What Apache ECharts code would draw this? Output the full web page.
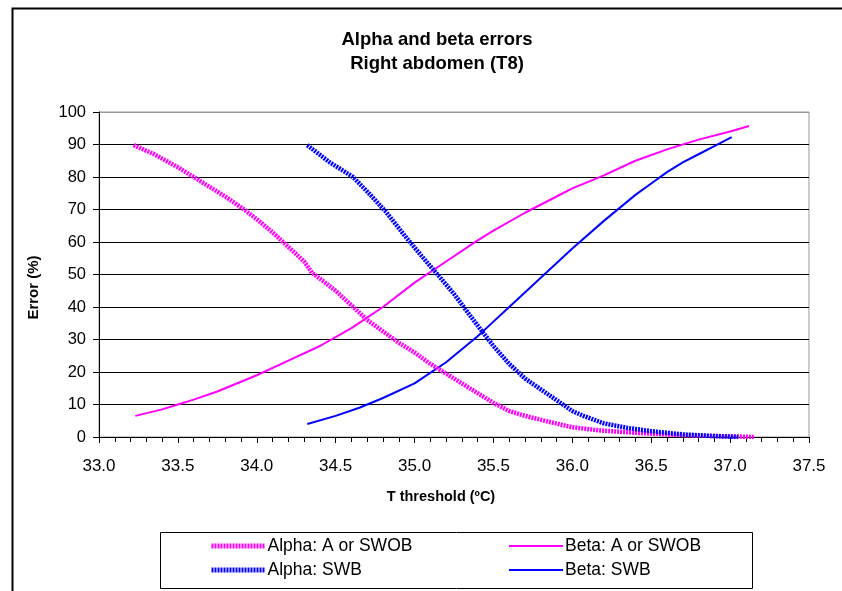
<!DOCTYPE html>
<html>
<head>
<meta charset="utf-8">
<script src="https://cdn.jsdelivr.net/npm/echarts@6/dist/echarts.min.js"></script>
<style>
html,body{margin:0;padding:0;background:#fff;}
#c{width:842px;height:591px;}
</style>
</head>
<body>
<div id="c"></div>
<script>
// Data
var titleText = 'Alpha and beta errors\nRight abdomen (T8)';
var xTicks = [33.0, 33.5, 34.0, 34.5, 35.0, 35.5, 36.0, 36.5, 37.0, 37.5];
var seriesNames = ['Alpha: A or SWOB', 'Beta: A or SWOB', 'Alpha: SWB', 'Beta: SWB'];

var alphaA_T = [33.22,33.35,33.5,33.58,33.7,33.8,33.92,34.0,34.1,34.2,34.3,34.35,34.42,34.5,34.6,34.7,34.8,34.9,35.0,35.1,35.2,35.3,35.4,35.5,35.6,35.7,35.85,36.0,36.18,36.4,36.6,36.8,37.0,37.15];
var alphaA_V = [89.8,87,83,80.6,77,74,70,67,63,58.5,54,50.5,48,45,40.5,36,32.5,29,26,22.5,19.5,16.5,13.5,10.5,8,6.5,4.7,3,2,1.3,0.8,0.4,0.2,0];

var betaA_T = [33.23,33.4,33.5,33.6,33.75,33.9,34.0,34.2,34.4,34.6,34.8,35.0,35.2,35.4,35.5,35.7,35.9,36.0,36.2,36.4,36.6,36.8,37.0,37.12];
var betaA_V = [6.5,8.5,10,11.5,14,17,19,23.5,28,33.5,40,47.5,54,60.5,63.5,69,74,76.5,80.5,85,88.5,91.5,94,95.7];

var alphaS_T = [34.32,34.46,34.61,34.72,34.82,34.95,35.05,35.16,35.25,35.35,35.42,35.5,35.6,35.7,35.85,36.0,36.07,36.2,36.35,36.5,36.7,36.9,37.05];
var alphaS_V = [89.8,84.6,80,74.5,69.2,61.2,55.4,49.2,44,37.5,33,28,22.5,18,13,8,6.5,4.2,2.8,1.8,0.8,0.3,0];

var betaS_T = [34.32,34.5,34.65,34.8,35.0,35.2,35.4,35.5,35.6,35.8,36.0,36.2,36.4,36.5,36.6,36.7,36.8,36.9,37.01];
var betaS_V = [4,6.5,9,12,16.5,23,31,35.5,40,49,58,66.5,74.5,78,81.5,84.5,87,89.5,92.3];

function pairs(t, v){ return t.map(function(x,i){ return [x, v[i]]; }); }

var FONT = '"Liberation Sans", Arial, sans-serif';
var chart = echarts.init(document.getElementById('c'), null, {renderer:'canvas'});

var gridColors = ['#000','#000','#000','#000','#000','#000','#000','#000','#000','#000','#999'];

var legendCommon = {
  orient: 'vertical', top: 532, itemGap: 6,
  itemWidth: 54, itemHeight: 14, itemStyle: {opacity: 0},
  textStyle: {fontFamily: FONT, fontSize: 17.5, color: '#000', padding: [0, 0, 0, -3]}
};

chart.setOption({
  animation: false,
  backgroundColor: '#fff',
  textStyle: {fontFamily: FONT, color:'#000'},
  title: {
    text: titleText,
    left: 432, top: 23, textAlign: 'center',
    textStyle: {fontFamily: FONT, fontSize: 18.5, fontWeight: 'bold', color: '#000', lineHeight: 24}
  },
  grid: {left: 99, right: 33, top: 112, bottom: 154, show: true, borderColor: '#999', borderWidth: 1},
  legend: [
    Object.assign({data: [
      {name: seriesNames[0], lineStyle: {width: 5}},
      {name: seriesNames[2], lineStyle: {width: 5}}
    ], left: 204}, legendCommon),
    Object.assign({data: [seriesNames[1], seriesNames[3]], left: 503}, legendCommon)
  ],
  xAxis: {
    type: 'value', min: 33.0, max: 37.5, interval: 0.5,
    name: 'T threshold (ºC)', nameLocation: 'middle', nameGap: 52,
    nameTextStyle: {fontFamily: FONT, fontSize: 14.5, fontWeight: 'bold', color:'#000', padding: [0, 26, 0, 0]},
    axisLine: {show: true, onZero: false, lineStyle: {color: '#000', width: 1}},
    axisTick: {show: true, inside: false, length: 6, lineStyle: {color:'#000'}},
    minorTick: {show: true, splitNumber: 5, length: 5, lineStyle: {color:'#000'}},
    splitLine: {show: false},
    axisLabel: {fontFamily: FONT, fontSize: 17, color: '#000', margin: 21,
      formatter: function(v){ return v.toFixed(1); }}
  },
  yAxis: {
    type: 'value', min: 0, max: 100, interval: 10,
    name: 'Error (%)', nameLocation: 'middle', nameGap: 58, nameRotate: 90,
    nameTextStyle: {fontFamily: FONT, fontSize: 15, fontWeight: 'bold', color:'#000', padding: [0, 26, 0, 0]},
    axisLine: {show: true, lineStyle: {color: '#000', width: 1}},
    axisTick: {show: true, inside: false, length: 6, lineStyle: {color:'#000'}},
    splitLine: {show: true, lineStyle: {color: gridColors, width: 1}},
    axisLabel: {fontFamily: FONT, fontSize: 16.5, color: '#000', margin: 13}
  },
  series: [
    {
      name: seriesNames[0], type: 'line', symbol: 'none', showSymbol: false,
      data: pairs(alphaA_T, alphaA_V),
      itemStyle: {color: '#ff00ff'},
      lineStyle: {color: '#ff00ff', width: 4.5, type: [2, 1]}, z: 3
    },
    {
      name: seriesNames[1], type: 'line', symbol: 'none', showSymbol: false,
      data: pairs(betaA_T, betaA_V),
      itemStyle: {color: '#ff00ff'},
      lineStyle: {color: '#ff00ff', width: 2}, z: 2
    },
    {
      name: seriesNames[2], type: 'line', symbol: 'none', showSymbol: false,
      data: pairs(alphaS_T, alphaS_V),
      itemStyle: {color: '#0000ff'},
      lineStyle: {color: '#0000ff', width: 4.5, type: [2, 1]}, z: 3
    },
    {
      name: seriesNames[3], type: 'line', symbol: 'none', showSymbol: false,
      data: pairs(betaS_T, betaS_V),
      itemStyle: {color: '#0000ff'},
      lineStyle: {color: '#0000ff', width: 2}, z: 2
    }
  ],
  graphic: [
    {type: 'rect', left: 10, top: 6, shape: {x:0, y:0, width: 850, height: 600}, style: {fill: 'none', stroke: '#000', lineWidth: 2}, silent: true, z: -1},
    {type: 'rect', left: 158, top: 530, shape: {x:0, y:0, width: 592, height: 56}, style: {fill: 'none', stroke: '#000', lineWidth: 1}, silent: true}
  ]
});
</script>
</body>
</html>
